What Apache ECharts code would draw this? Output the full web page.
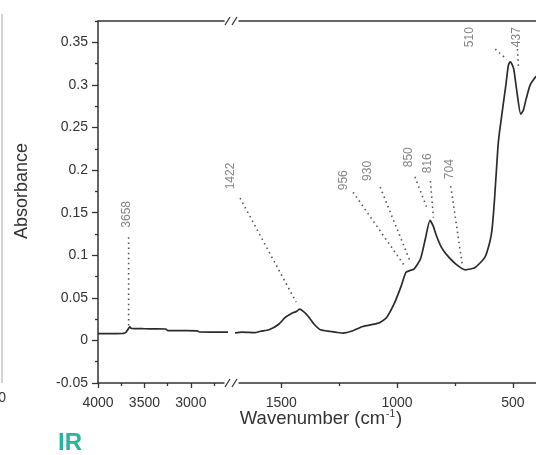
<!DOCTYPE html>
<html>
<head>
<meta charset="utf-8">
<script src="https://cdn.jsdelivr.net/npm/echarts@6/dist/echarts.min.js"></script>
<style>
  html, body { margin: 0; padding: 0; background: #fff; }
  #chart { width: 536px; height: 455px; }
</style>
</head>
<body>
<div id="chart"></div>
<script>
// IR absorbance spectrum drawn on a broken wavenumber axis:
// a compressed high-wavenumber part (4000-2600 cm-1) and an expanded
// fingerprint part (1700-400 cm-1).

// High-wavenumber part
const highWavenumber = [4000, 3850, 3740, 3725, 3700, 3680, 3665, 3655, 3640, 3500, 3400, 3270, 3250, 3100, 2930, 2910, 2750, 2600];
const highAbsorbance = [0.0080, 0.0080, 0.0081, 0.0083, 0.0095, 0.0125, 0.0150, 0.0158, 0.0140, 0.0137, 0.0136, 0.0134, 0.0116, 0.0114, 0.0113, 0.0099, 0.0098, 0.0097];

// Fingerprint part
const lowWavenumber = [1700, 1670, 1640, 1615, 1590, 1553, 1511, 1483, 1456, 1435, 1421, 1405, 1386, 1358, 1331, 1289, 1260, 1233, 1191, 1149, 1080, 1045, 1010, 982, 962, 945, 927, 899, 878, 858, 845, 830, 810, 788, 746, 704, 663, 621, 600, 590, 579, 565, 558, 530, 520, 512, 505, 496, 482, 466, 455, 443, 425, 400];
const lowAbsorbance = [0.0088, 0.0098, 0.0094, 0.0092, 0.0108, 0.0125, 0.0190, 0.0270, 0.0317, 0.0340, 0.0367, 0.0340, 0.0290, 0.0190, 0.0125, 0.0106, 0.0095, 0.0086, 0.0113, 0.0164, 0.0203, 0.0270, 0.0446, 0.0640, 0.0798, 0.0820, 0.0837, 0.0955, 0.1190, 0.1410, 0.1350, 0.1228, 0.1100, 0.1013, 0.0896, 0.0829, 0.0857, 0.0975, 0.1150, 0.1300, 0.1660, 0.2246, 0.2440, 0.3000, 0.3220, 0.3270, 0.3250, 0.3186, 0.2910, 0.2657, 0.2700, 0.2830, 0.3000, 0.3100];

// Tick values
const yMajorTicks = [-0.05, 0, 0.05, 0.1, 0.15, 0.2, 0.25, 0.3, 0.35];
const yMinorTicks = [-0.025, 0.025, 0.075, 0.125, 0.175, 0.225, 0.275, 0.325, 0.375];
const highMajorTicks = [4000, 3500, 3000];
const highMinorTicks = [3750, 3250, 2750];
const lowMajorTicks = [1500, 1000, 500];
const lowMinorTicks = [1250, 750];

// Band assignments: label, label anchor [wn, abs], leader from [wn, abs] to [wn, abs]
const bandNames = ['3658', '1422', '956', '930', '850', '816', '704', '510', '437'];
const bandPart = ['high', 'low', 'low', 'low', 'low', 'low', 'low', 'low', 'low'];
const bandLabelAt = [[3688, 0.148], [1720, 0.193], [1232, 0.188], [1127, 0.199], [948, 0.215], [869, 0.208], [772, 0.201], [685, 0.356], [484, 0.356]];
const bandLeaderFrom = [[3670, 0.121], [1678, 0.167], [1190, 0.174], [1073, 0.180], [923, 0.192], [856, 0.187], [768, 0.181], [576, 0.342], [480, 0.342]];
const bandLeaderTo = [[3670, 0.017], [1436, 0.045], [969, 0.088], [944, 0.093], [869, 0.154], [843, 0.144], [718, 0.088], [526, 0.330], [476, 0.322]];

const ink = '#333';
const fontFamily = 'Liberation Sans, Arial, sans-serif';
const labelFont = { fontFamily, fontSize: 14, color: '#333' };

function zip(a, b) { return a.map((v, i) => [v, b[i]]); }
const plain = v => String(Math.round(v * 1000) / 1000);

const Y_MIN = -0.05, Y_MAX = 0.375;

function bottomAxes(grid, min, max, major, minor) {
  return [
    { type: 'value', gridIndex: grid, position: 'bottom', min, max, inverse: true,
      axisLine: { show: true, onZero: false, lineStyle: { color: ink, width: 1.5 } },
      axisTick: { show: true, customValues: major, length: 5, lineStyle: { color: ink, width: 1.3 } },
      axisLabel: Object.assign({ show: true, customValues: major, margin: 13, formatter: plain }, labelFont),
      splitLine: { show: false } },
    { type: 'value', gridIndex: grid, position: 'bottom', min, max, inverse: true,
      axisLine: { show: false, onZero: false },
      axisTick: { show: true, customValues: minor, length: 3, lineStyle: { color: ink, width: 1.3 } },
      axisLabel: { show: false }, splitLine: { show: false } },
    { type: 'value', gridIndex: grid, position: 'top', min, max, inverse: true,
      axisLine: { show: true, onZero: false, lineStyle: { color: ink, width: 1.5 } },
      axisTick: { show: false }, axisLabel: { show: false }, splitLine: { show: false } }
  ];
}

const series = [
  { type: 'line', xAxisIndex: 0, yAxisIndex: 0, data: zip(highWavenumber, highAbsorbance),
    showSymbol: false, smooth: 0.2, lineStyle: { color: '#2b2b2b', width: 1.7 }, silent: true, z: 5 },
  { type: 'line', xAxisIndex: 3, yAxisIndex: 2, data: zip(lowWavenumber, lowAbsorbance),
    showSymbol: false, smooth: 0.2, lineStyle: { color: '#2b2b2b', width: 1.7 }, silent: true, z: 5 }
];

bandNames.forEach((name, i) => {
  const xi = bandPart[i] === 'high' ? 0 : 3;
  const yi = bandPart[i] === 'high' ? 0 : 2;
  series.push({
    type: 'line', xAxisIndex: xi, yAxisIndex: yi, silent: true, clip: false, showSymbol: false,
    data: [bandLeaderFrom[i], bandLeaderTo[i]],
    lineStyle: { color: '#555', width: 1.6, type: [1.5, 3.6] }, z: 3
  });
  series.push({
    type: 'scatter', xAxisIndex: xi, yAxisIndex: yi, silent: true, clip: false,
    symbolSize: 0, data: [bandLabelAt[i]],
    label: { show: true, position: 'inside', rotate: 90, formatter: name,
      fontFamily, fontSize: 12, color: '#666' }
  });
});

const option = {
  animation: false,
  backgroundColor: '#fff',
  grid: [
    { left: 98, top: 21, width: 130, height: 362 },
    { left: 235, top: 21, width: 311, height: 362 }
  ],
  xAxis: [].concat(
    bottomAxes(0, 2600, 4000, highMajorTicks, highMinorTicks),
    bottomAxes(1, 400, 1700, lowMajorTicks, lowMinorTicks)
  ),
  yAxis: [
    { type: 'value', gridIndex: 0, position: 'left', min: Y_MIN, max: Y_MAX,
      axisLine: { show: true, onZero: false, lineStyle: { color: ink, width: 1.5 } },
      axisTick: { show: true, customValues: yMajorTicks, length: 6, lineStyle: { color: ink, width: 1.3 } },
      axisLabel: Object.assign({ show: true, customValues: yMajorTicks, margin: 10, formatter: plain }, labelFont),
      splitLine: { show: false } },
    { type: 'value', gridIndex: 0, position: 'left', min: Y_MIN, max: Y_MAX,
      axisLine: { show: false, onZero: false },
      axisTick: { show: true, customValues: yMinorTicks, length: 3, lineStyle: { color: ink, width: 1.3 } },
      axisLabel: { show: false }, splitLine: { show: false } },
    { type: 'value', gridIndex: 1, min: Y_MIN, max: Y_MAX, show: false }
  ],
  series
};

const chart = echarts.init(document.getElementById('chart'), null, { renderer: 'canvas' });
chart.setOption(option);

// Break marks and free-standing texts
const leftEnd = chart.convertToPixel({ xAxisIndex: 0 }, 2600);
const rightStart = chart.convertToPixel({ xAxisIndex: 3 }, 1700);
const yTop = chart.convertToPixel({ yAxisIndex: 0 }, Y_MAX);
const yBottom = chart.convertToPixel({ yAxisIndex: 0 }, Y_MIN);
const mid = (leftEnd + rightStart) / 2;

function breakMark(y) {
  return [
    { type: 'rect', shape: { x: mid - 7, y: y - 3, width: 14, height: 6 }, style: { fill: '#fff' }, z: 50 },
    { type: 'line', shape: { x1: mid - 6.5, y1: y + 4, x2: mid - 1.5, y2: y - 4 }, style: { stroke: ink, lineWidth: 1.3 }, z: 51 },
    { type: 'line', shape: { x1: mid + 0.5, y1: y + 4, x2: mid + 5.5, y2: y - 4 }, style: { stroke: ink, lineWidth: 1.3 }, z: 51 }
  ];
}

chart.setOption({
  graphic: [].concat(breakMark(yTop), breakMark(yBottom), [
    { type: 'text', x: 22, y: 191, rotation: Math.PI / 2, z: 60,
      style: { text: 'Absorbance', fontFamily, fontSize: 18,
        fill: '#333', align: 'center', verticalAlign: 'middle' } },
    { type: 'text', x: 321, y: 419, z: 60,
      style: { text: 'Wavenumber (cm{sup|-1})', fontFamily, fontSize: 18.5,
        fill: '#333', align: 'center', verticalAlign: 'middle',
        rich: { sup: { fontSize: 10, verticalAlign: 'top', padding: [0, 1, 9, 1], fill: '#333' } } } },
    { type: 'text', x: 70, y: 443, z: 60,
      style: { text: 'IR', fontFamily, fontSize: 24, fontWeight: 'bold',
        fill: '#2bb3a1', align: 'center', verticalAlign: 'middle' } },
    { type: 'line', shape: { x1: 2, y1: 14, x2: 2, y2: 383 }, style: { stroke: '#b8b8b8', lineWidth: 1.2 }, z: 60 },
    { type: 'text', x: 6, y: 398, z: 60,
      style: { text: '0', fontFamily, fontSize: 14,
        fill: '#333', align: 'right', verticalAlign: 'middle' } }
  ])
});
</script>
</body>
</html>
